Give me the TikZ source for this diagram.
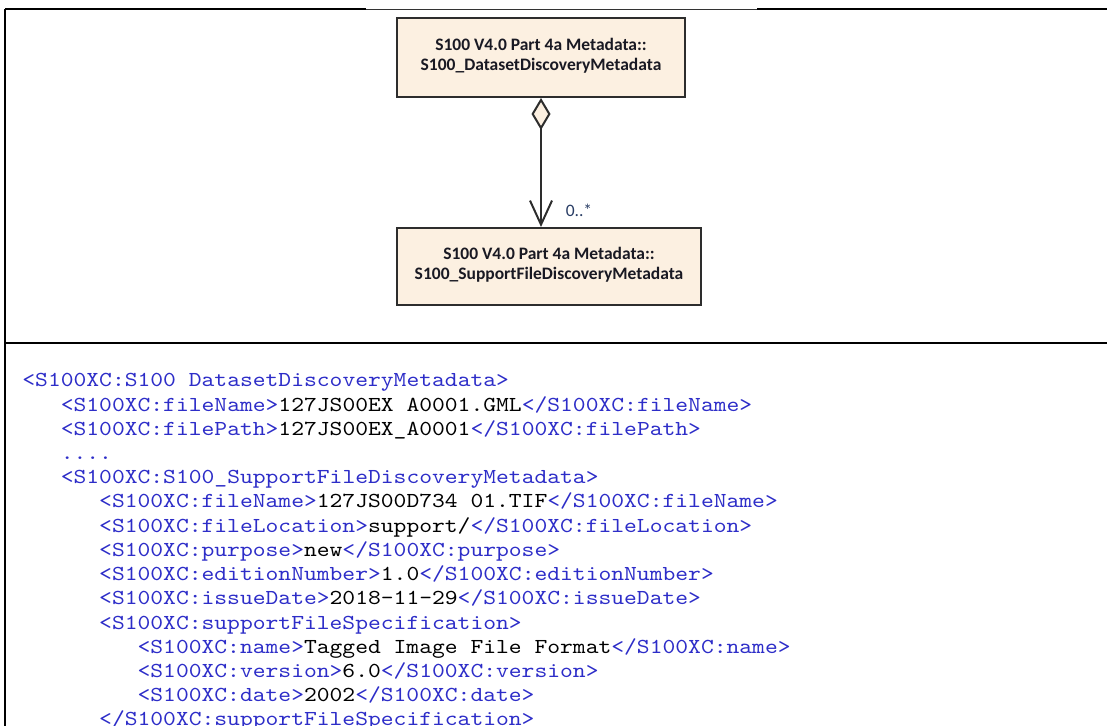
\documentclass[tikz,border=0pt]{standalone}
\usepackage{fontspec}
\setmainfont{Carlito}
\setmonofont{Latin Modern Mono}[FakeStretch=1.1429]
\usetikzlibrary{arrows.meta,positioning}
\definecolor{umlfill}{RGB}{252,240,225}
\definecolor{umlline}{RGB}{45,45,45}
\definecolor{umltext}{RGB}{25,25,35}
\definecolor{multtext}{RGB}{40,60,100}
\definecolor{xmlblue}{RGB}{45,45,200}
\newcommand{\xtag}[1]{\textcolor{xmlblue}{#1}}
\newcommand{\umlname}[2]{\raisebox{0.5pt}[\height][\depth]{\begin{tabular}{@{}c@{}}#1\\#2\end{tabular}}}
\tikzset{
  umlbox/.style={draw=umlline, line width=1pt, fill=umlfill, inner sep=0pt, text=umltext,
    font=\fontsize{8.75}{10}\selectfont\bfseries},
  assoc/.style={draw=umlline, line width=1pt,
    {Diamond[length=16pt,width=9.5pt,fill=umlfill]}-{Straight Barb[length=12pt,width=11pt]}},
  multlbl/.style={inner sep=0pt, text=multtext, font=\fontsize{8.75}{10}\selectfont},
  xmlline/.style={anchor=base west, inner sep=0pt, font=\fontsize{10.67}{12.1}\selectfont\ttfamily},
  tblrule/.style={line width=1pt},
}
\begin{document}
\begin{tikzpicture}[x=0.5pt,y=-0.5pt]
    \useasboundingbox (0,0) rectangle (1107,726);
    % table lines
    \draw[tblrule] (5,9.5) -- (366,9.5);
    \draw[line width=0.5pt,black!80] (366,9.5) -- (757,9.5);
    \draw[tblrule] (757,9.5) -- (1107,9.5);
    \draw[tblrule] (5,9) -- (5,726);
    \draw[tblrule] (5,343) -- (1107,343);
    % uml part
    \node[umlbox, minimum width=144pt, minimum height=39.5pt] (dsbox) at (541,57.5)
        {\umlname{S100 V4.0 Part 4a Metadata::}{S100\_DatasetDiscoveryMetadata}};
    \node[umlbox, minimum width=152pt, minimum height=38.5pt] (sfbox) at (549,266.5)
        {\umlname{S100 V4.0 Part 4a Metadata::}{S100\_SupportFileDiscoveryMetadata}};
    \draw[assoc] (dsbox.south) -- (dsbox.south |- sfbox.north);
    \node[multlbl] (mult) at (579,210) {0..*};
    % xml part
    \node[xmlline] (x1) at (22,387) {\xtag{<S100XC:S100 DatasetDiscoveryMetadata>}};
    \node[xmlline] (x2) at (60.4,411.2) {\xtag{<S100XC:fileName>}127JS00EX A0001.GML\xtag{</S100XC:fileName>}};
    \node[xmlline] (x3) at (60.4,435.4) {\xtag{<S100XC:filePath>}127JS00EX\_A0001\xtag{</S100XC:filePath>}};
    \node[xmlline] (x4) at (60.4,459.6) {\xtag{....}};
    \node[xmlline] (x5) at (60.4,483.8) {\xtag{<S100XC:S100\_SupportFileDiscoveryMetadata>}};
    \node[xmlline] (x6) at (98.8,508) {\xtag{<S100XC:fileName>}127JS00D734 01.TIF\xtag{</S100XC:fileName>}};
    \node[xmlline] (x7) at (98.8,532.2) {\xtag{<S100XC:fileLocation>}support/\xtag{</S100XC:fileLocation>}};
    \node[xmlline] (x8) at (98.8,556.4) {\xtag{<S100XC:purpose>}new\xtag{</S100XC:purpose>}};
    \node[xmlline] (x9) at (98.8,580.6) {\xtag{<S100XC:editionNumber>}1.0\xtag{</S100XC:editionNumber>}};
    \node[xmlline] (x10) at (98.8,604.8) {\xtag{<S100XC:issueDate>}2018-11-29\xtag{</S100XC:issueDate>}};
    \node[xmlline] (x11) at (98.8,629) {\xtag{<S100XC:supportFileSpecification>}};
    \node[xmlline] (x12) at (137.2,653.2) {\xtag{<S100XC:name>}Tagged Image File Format\xtag{</S100XC:name>}};
    \node[xmlline] (x13) at (137.2,677.4) {\xtag{<S100XC:version>}6.0\xtag{</S100XC:version>}};
    \node[xmlline] (x14) at (137.2,701.6) {\xtag{<S100XC:date>}2002\xtag{</S100XC:date>}};
    \node[xmlline] (x15) at (98.8,725.8) {\xtag{</S100XC:supportFileSpecification>}};
\end{tikzpicture}
\end{document}
